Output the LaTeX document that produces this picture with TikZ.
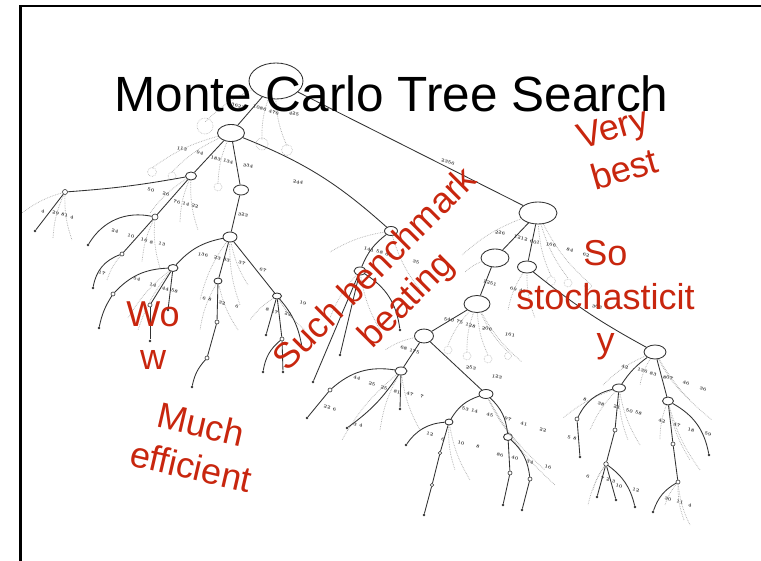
\documentclass[tikz,border=0pt]{standalone}
\usepackage{fontspec}
\newfontfamily\slidefont{Liberation Sans}
\usetikzlibrary{shapes.geometric}
\definecolor{dogered}{RGB}{200,38,14}
\definecolor{treeink}{RGB}{50,50,50}

\tikzset{
  edge/.style={draw=treeink, line width=0.85pt},
  dotb/.style={draw=black!32, densely dotted, line width=0.7pt},
  dotc/.style={circle, draw=black!30, densely dotted, line width=0.6pt, inner sep=0pt},
  ell/.style 2 args={ellipse, draw=treeink, line width=0.85pt, fill=white, inner sep=0pt,
    minimum width=#1pt, minimum height=#2pt},
  knot/.style={circle, draw=treeink, line width=0.6pt, fill=white, inner sep=0pt, minimum size=5pt},
  leaf/.style={circle, fill=treeink, inner sep=0pt, minimum size=2.6pt},
  num/.style={font=\fontsize{4.6}{5}\selectfont\bfseries, text=black!80, inner sep=0pt, rotate=-15},
  doge/.style={font=\slidefont\fontsize{36}{43.5}\selectfont, text=dogered, align=center, inner sep=0pt},
  slidetitle/.style={font=\slidefont\fontsize{49.5}{55}\selectfont, text=black, inner sep=0pt},
}

\begin{document}
\begin{tikzpicture}[x=1pt, y=-1pt]
\useasboundingbox (0,0) rectangle (761,561);
\fill[white] (0,0) rectangle (761,561);

% ---------- search tree: nodes ----------
\node[ell={54}{36}] (root) at (276,81) {};
\node[ell={27}{17}] (n1) at (231,133) {};
\node[ell={38}{22}] (r) at (538,213) {};
\node[ell={11}{8}] (a) at (191,176) {};
\node[ell={15}{10}] (b) at (241,190) {};
\node[ell={13}{9}] (c) at (391,231) {};
\node[knot] (d) at (65,192) {};
\node[leaf] (d1) at (35,231) {};
\node[knot, minimum size=6pt] (e) at (155,217) {};
\node[leaf] (e1) at (88,245) {};
\node[knot, minimum size=4pt] (e2) at (122,254) {};
\node[leaf] (e3) at (93,288) {};
\node[ell={14}{10}] (f) at (230,237) {};
\node[ell={10}{7}] (g) at (173,268) {};
\node[knot, minimum size=4pt] (g1) at (113,294) {};
\node[leaf] (g2) at (99,328) {};
\node[knot, minimum size=4pt] (g3) at (150,305) {};
\node[leaf] (g4) at (150,341) {};
\node[leaf] (g5) at (168,310) {};
\node[ell={8}{6}] (h) at (218,281) {};
\node[knot, minimum size=4pt] (h1) at (217,322) {};
\node[knot, minimum size=4pt] (h2) at (207,358) {};
\node[leaf] (h3) at (192,387) {};
\node[ell={9}{6}] (i) at (277,296) {};
\node[leaf] (i1) at (266,335) {};
\node[knot, minimum size=4pt] (i2) at (282,339) {};
\node[leaf] (i3) at (263,372) {};
\node[leaf] (i4) at (283,372) {};
\node[leaf] (i5) at (302,347) {};
\node[ell={12}{8}] (j) at (360,271) {};
\node[leaf] (j1) at (313,382) {};
\node[leaf] (j2) at (340,355) {};
\node[leaf] (j3) at (400,330) {};
\node[ell={28}{18}] (k) at (495,258) {};
\node[ell={19}{12}] (l) at (527,267) {};
\node[ell={26}{17}] (m) at (477,304) {};
\node[ell={19}{14}] (n) at (424,336) {};
\node[ell={12}{8}] (o) at (401,371) {};
\node[knot, minimum size=4pt] (o1) at (330,390) {};
\node[leaf] (o2) at (307,418) {};
\node[leaf] (o3) at (347,428) {};
\node[leaf] (o4) at (400,409) {};
\node[ell={14}{9}] (p) at (486,394) {};
\node[ell={8}{6}] (q) at (449,422) {};
\node[leaf] (q1) at (406,445) {};
\node[knot, minimum size=3.5pt] (qa) at (440,453) {};
\node[knot, minimum size=3.5pt] (qb) at (432,485) {};
\node[leaf] (q2) at (424,515) {};
\node[ell={9}{7}] (s) at (508,437) {};
\node[knot, minimum size=4pt] (s1) at (510,473) {};
\node[leaf] (s2) at (503,505) {};
\node[knot, minimum size=4pt] (s3) at (530,479) {};
\node[leaf] (s4) at (522,510) {};
\node[ell={22}{14}] (t) at (655,352) {};
\node[ell={13}{8}] (u) at (619,388) {};
\node[knot, minimum size=4pt] (u1) at (577,419) {};
\node[leaf] (u2) at (580,457) {};
\node[knot, minimum size=4pt] (u3) at (615,430) {};
\node[knot, minimum size=4.5pt] (u4) at (606,464) {};
\node[leaf] (u5) at (597,497) {};
\node[leaf] (u6) at (616,500) {};
\node[leaf] (u7) at (635,507) {};
\node[ell={11}{8}] (v) at (668,401) {};
\node[knot, minimum size=4pt] (v1) at (673,444) {};
\node[knot, minimum size=4pt] (v2) at (678,482) {};
\node[leaf] (v3) at (653,512) {};
\node[leaf] (v4) at (709,455) {};

% ---------- search tree: dotted (unexpanded) branches ----------
\foreach \src/\px/\py [count=\k] in {
  root/205/122, root/262/140, root/287/146,
  n1/152/168, n1/172/172, n1/218/184,
  a/150/213, a/180/222, a/198/230,
  d/22/213, d/53/238, d/72/240,
  e/142/262, e/160/268, e2/107/280,
  f/200/300, f/240/305, f/248/285,
  g/128/318, g/138/330, h/200/330, h/238/330,
  i/250/320, i/305/330,
  c/330/252, c/420/290, j/330/318, j/380/330,
  r/462/255, r/551/276, r/568/278, r/588/282,
  k/465/272, l/508/310, l/535/318,
  m/448/345, m/467/352, m/488/355, m/508/352, m/522/362,
  n/385/350, o/342/440, o/380/430, o/420/430,
  p/520/445, p/545/470, p/555/485, q/455/470, q/470/480,
  t/603/385, t/640/385, t/690/400, t/712/420,
  u/563/418, u/590/430, u/628/440, u/640/445,
  v/660/440, v/690/460, v/700/470,
  u4/588/505, u4/593/490, v2/665/505, v2/684/520, v2/690/525}
{
  \coordinate (dt\k) at (\px,\py);
  \draw[dotb] (\src) to[bend right=10] (dt\k);
}
\foreach \px/\py/\rr [count=\k] in {
  205/126/16, 262/144/12, 287/150/11,
  152/172/9, 172/176/8, 218/187/8,
  551/281/9, 568/283/8, 588/286/7,
  448/350/8, 467/356/8, 488/359/8, 508/356/7}
{
  \node[dotc, minimum size=\rr pt] (dc\k) at (\px,\py) {};
}

% ---------- search tree: solid edges ----------
\draw[edge] (root) -- (n1);
\draw[edge] (root) -- (r);
\draw[edge] (n1) -- (a);
\draw[edge] (n1) -- (b);
\draw[edge] (n1) to[bend left=10] (c);
\draw[edge] (a) to[bend left=3] (d);
\draw[edge] (d) -- (d1);
\draw[edge] (a) -- (e);
\draw[edge] (e) to[bend right=35] (e1);
\draw[edge] (e) -- (e2);
\draw[edge] (e2) to[bend right=30] (e3);
\draw[edge] (b) -- (f);
\draw[edge] (f) to[bend right=18] (g);
\draw[edge] (f) -- (h);
\draw[edge] (f) -- (i);
\draw[edge] (g) to[bend right=22] (g1);
\draw[edge] (g1) to[bend right=10] (g2);
\draw[edge] (g) -- (g3);
\draw[edge] (g3) -- (g4);
\draw[edge] (g) -- (g5);
\draw[edge] (h) -- (h1);
\draw[edge] (h1) -- (h2);
\draw[edge] (h2) to[bend right=15] (h3);
\draw[edge] (i) -- (i1);
\draw[edge] (i) -- (i2);
\draw[edge] (i2) to[bend right=20] (i3);
\draw[edge] (i2) -- (i4);
\draw[edge] (i) to[bend left=15] (i5);
\draw[edge] (c) to[bend right=15] (j);
\draw[edge] (j) -- (j1);
\draw[edge] (j) -- (j2);
\draw[edge] (j) to[bend left=25] (j3);
\draw[edge] (r) -- (k);
\draw[edge] (r) -- (l);
\draw[edge] (k) -- (m);
\draw[edge] (m) -- (n);
\draw[edge] (n) -- (o);
\draw[edge] (n) -- (p);
\draw[edge] (o) to[bend right=25] (o1);
\draw[edge] (o1) -- (o2);
\draw[edge] (o) to[bend left=10] (o3);
\draw[edge] (o) -- (o4);
\draw[edge] (p) to[bend right=20] (q);
\draw[edge] (q) to[bend right=25] (q1);
\draw[edge] (q) -- (qa);
\draw[edge] (qa) -- (qb);
\draw[edge] (qb) -- (q2);
\draw[edge] (p) to[bend left=20] (s);
\draw[edge] (s) -- (s1);
\draw[edge] (s1) -- (s2);
\draw[edge] (s) to[bend left=20] (s3);
\draw[edge] (s3) -- (s4);
\draw[edge] (l) to[bend right=5] (t);
\draw[edge] (t) to[bend right=10] (u);
\draw[edge] (t) -- (v);
\draw[edge] (u) to[bend right=25] (u1);
\draw[edge] (u1) -- (u2);
\draw[edge] (u) -- (u3);
\draw[edge] (u3) -- (u4);
\draw[edge] (u4) -- (u5);
\draw[edge] (u4) -- (u6);
\draw[edge] (u4) to[bend left=20] (u7);
\draw[edge] (v) -- (v1);
\draw[edge] (v1) -- (v2);
\draw[edge] (v2) to[bend right=20] (v3);
\draw[edge] (v) to[bend left=25] (v4);

% ---------- search tree: visit counts ----------
\foreach \px/\py/\t [count=\k] in {
  238/106/3623, 266/110/1086 476, 294/114/425, 448/162/2356, 298/182/244,
  182/149/113, 200/153/94, 222/160/183 134, 248/166/334,
  151/190/50, 166/194/26, 186/204/76 14 22,
  43/211/4, 63/215/29 81 4,
  115/231/24, 131/236/10, 147/241/16 8, 162/244/13, 102/273/17,
  243/215/323, 203/255/136, 222/259/23 83, 242/263/37, 263/270/67,
  137/279/54, 153/285/14, 170/290/44 58,
  207/299/6 8, 222/303/32, 237/307/6,
  272/311/8 17, 288/314/22, 303/303/19,
  378/252/141 58 67, 416/262/35,
  500/233/226, 527/240/1212 601, 551/245/166, 570/250/84, 586/255/62,
  490/283/1251, 518/290/69 41, 597/307/363,
  449/320/540, 466/324/75 128, 487/329/206, 510/335/161,
  410/350/68 175, 471/368/253, 497/377/123,
  357/378/44, 372/384/25, 384/388/25, 397/392/81, 410/394/47, 422/397/7,
  330/408/22 6, 358/425/3 4,
  470/410/53 14, 490/415/45, 508/419/97, 524/424/41, 543/430/22,
  430/434/12, 443/440/6, 461/443/10, 478/447/8,
  500/455/86, 515/458/40, 530/462/34, 548/467/16,
  625/367/42, 647/372/136 83, 668/378/807, 686/383/46, 703/389/36,
  585/400/8, 601/404/38, 617/407/21, 634/412/50 58,
  662/421/42, 677/425/47, 691/430/18, 708/434/59,
  572/438/5 8, 588/477/6, 608/480/7 2 3, 619/486/10, 636/490/12,
  668/499/30, 680/502/11, 690/505/4}
{
  \node[num] (lb\k) at (\px,\py) {\t};
}

% ---------- slide frame and title ----------
\draw[line width=2.6pt, line join=miter] (20.5,561) -- (20.5,6) -- (761,6);
\node[slidetitle, anchor=base] (title) at (391.5,112) {Monte Carlo Tree Search};

% ---------- captions ----------
\node[doge, rotate=16] (verybest) at (618.4,148.3) {Very\\best};
\node[doge] (stoch) at (605.5,300.4) {So\\stochasticit\\y};
\node[doge] (wow) at (153,335.6) {Wo\\w};
\node[doge, rotate=-13] (much) at (196,445.4) {Much\\efficient};
\node[doge, rotate=45] (bench) at (391.8,285.8) {Such benchmark\\beating};
\end{tikzpicture}
\end{document}
